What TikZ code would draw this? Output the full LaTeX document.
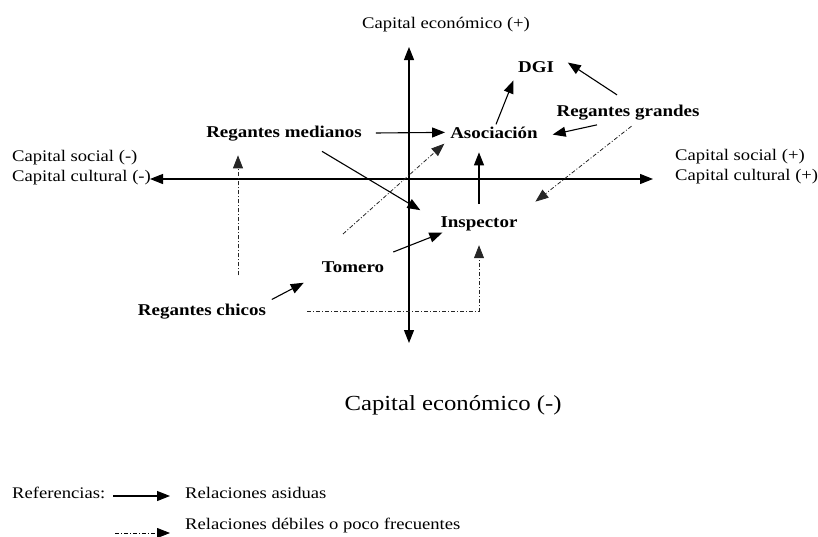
\documentclass[tikz,border=0pt]{standalone}
\usepackage{fontspec}
\setmainfont{Liberation Serif}[FakeStretch=1.15]
\usetikzlibrary{arrows.meta}

\begin{document}
\begin{tikzpicture}[x=1pt,y=-1pt,
    >={Triangle[length=13pt,width=10pt]},
    rel/.style={->, line width=1.1pt},
    weak/.style={->, line width=0.8pt, black!85, dash pattern=on 4pt off 2pt on 1pt off 2pt},
    actor/.style={font=\fontsize{16.5}{18}\selectfont\bfseries, inner sep=2pt, anchor=base},
    eje/.style={font=\fontsize{16.2}{18}\selectfont, inner sep=2pt, anchor=base west}]
\useasboundingbox (0,0) rectangle (818,536);
% ejes
\coordinate (xneg) at (150,179);
\coordinate (xpos) at (653,179);
\coordinate (ypos) at (409,47);
\coordinate (yneg) at (409,343);
\draw[<->, line width=1.1pt] (xneg) -- (xpos);
\draw[<->, line width=1.1pt] (ypos) -- (yneg);
% rotulos de los ejes
\node[eje, anchor=base] (cetop) at (446,28) {Capital económico (+)};
\node[eje] (csl1) at (10,161) {Capital social (-)};
\node[eje] (csl2) at (10,181) {Capital cultural (-)};
\node[eje] (csr1) at (673,160) {Capital social (+)};
\node[eje] (csr2) at (673,180) {Capital cultural (+)};
\node[font=\fontsize{21.5}{24}\selectfont, anchor=base] (cebot) at (453,410) {Capital económico (-)};
% actores
\node[actor] (dgi) at (536,72) {DGI};
\node[actor] (grandes) at (628,116) {Regantes grandes};
\node[actor] (asoc) at (494,138) {Asociación};
\node[actor] (medianos) at (284,137) {Regantes medianos};
\node[actor] (insp) at (479,227) {Inspector};
\node[actor] (tomero) at (353,272) {Tomero};
\node[actor] (chicos) at (202,315) {Regantes chicos};
% relaciones asiduas
\draw[rel, shorten <=12pt, shorten >=3pt] (medianos.east) -- (asoc.west);
\draw[rel, shorten >=13pt] ([xshift=-31pt,yshift=-3pt]grandes.south) -- ([yshift=-5pt]asoc.east);
\draw[rel, shorten >=14pt] ([xshift=-11pt,yshift=7.5pt]grandes.north) -- ([yshift=4pt]dgi.north east);
\draw[rel, shorten >=6.5pt] ([xshift=2pt]asoc.north) -- (dgi.south west);
\draw[rel, shorten <=10pt, shorten >=12pt] (insp.north) -- (insp.north |- asoc.south);
\draw[rel, shorten >=21pt] ([xshift=38pt,yshift=-8.5pt]medianos.south) -- ([yshift=2.4pt]insp.west);
\draw[rel] ([xshift=7pt,yshift=7pt]tomero.north east) -- ([xshift=4pt]insp.south west);
\draw[rel, shorten <=4pt, shorten >=18pt] (chicos.north east) -- (tomero.south west);
% relaciones debiles
\draw[weak, shorten <=26pt, shorten >=12.5pt] ([xshift=36pt]chicos.north) -- ([xshift=36pt]chicos.north |- medianos.south);
\draw[weak, shorten >=5pt] ([xshift=-10pt,yshift=25pt]tomero.north) -- (asoc.south west);
\draw[weak, shorten <=7pt, shorten >=20pt] ([xshift=9pt]grandes.south) -- (insp.north east);
\draw[weak, shorten <=39pt, shorten >=12.5pt] (chicos.east) -| (insp.south);
% referencias
\node[eje] (refs) at (10,498) {Referencias:};
\node[eje] (leg1) at (183,498) {Relaciones asiduas};
\node[eje] (leg2) at (183,529) {Relaciones débiles o poco frecuentes};
\coordinate (l1) at (113,496);
\coordinate (l2) at (115,533);
\draw[rel, shorten >=13pt] (l1) -- (l1 -| leg1.west);
\draw[weak, black, shorten >=13pt] (l2) -- (l2 -| leg2.west);
\end{tikzpicture}
\end{document}
